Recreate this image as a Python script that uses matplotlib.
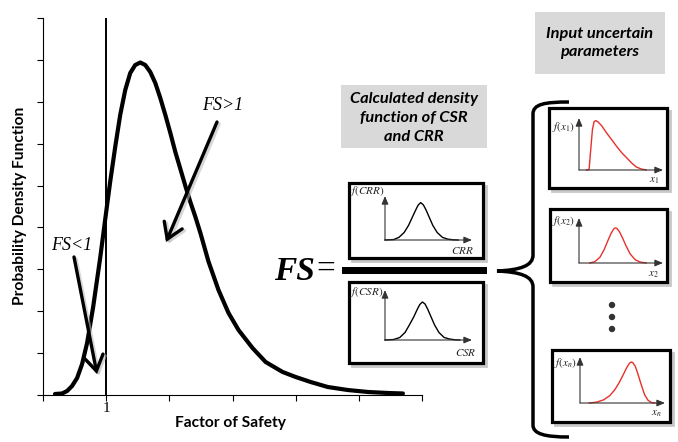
import matplotlib
matplotlib.use("Agg")
import matplotlib.pyplot as plt
from matplotlib.patches import Rectangle, PathPatch, Circle, FancyArrowPatch
from matplotlib.path import Path

plt.rcParams['mathtext.fontset'] = 'stix'

# ---------------- data ----------------
fs_x = [0.190, 0.302, 0.381, 0.460, 0.540, 0.619, 0.698, 0.794, 0.905, 1.000, 1.063,
        1.143, 1.222, 1.302, 1.381, 1.460, 1.540, 1.619, 1.698, 1.778, 1.857, 1.937,
        2.016, 2.095, 2.175, 2.254, 2.333, 2.413, 2.492, 2.619, 2.778, 2.937, 3.095,
        3.317, 3.524, 3.794, 4.000, 4.238, 4.508, 4.825, 5.143, 5.460, 5.698]
pdf_y = [0.024, 0.036, 0.095, 0.215, 0.406, 0.740, 1.241, 2.101, 3.270, 4.368, 5.084,
         5.920, 6.684, 7.281, 7.687, 7.878, 7.938, 7.878, 7.711, 7.448, 7.090, 6.684,
         6.255, 5.801, 5.395, 4.989, 4.607, 4.250, 3.867, 3.190, 2.507, 1.958, 1.552,
         1.122, 0.788, 0.549, 0.430, 0.310, 0.191, 0.119, 0.072, 0.048, 0.036]
x_ticks = [0, 1, 2, 3, 4, 5, 6]
x_tick_labels = ['', '1', '', '', '', '', '']
y_ticks = [0, 1, 2, 3, 4, 5, 6, 7, 8, 9]
fs_threshold = 1

crr_x = [0.00, 0.10, 0.16, 0.22, 0.27, 0.31, 0.35, 0.38, 0.41, 0.44, 0.47, 0.51, 0.55, 0.60, 0.66, 0.72, 0.78, 0.84]
crr_y = [0.00, 0.01, 0.06, 0.17, 0.33, 0.50, 0.67, 0.79, 0.85, 0.80, 0.69, 0.51, 0.33, 0.17, 0.06, 0.02, 0.005, 0.00]
csr_x = [0.00, 0.10, 0.17, 0.23, 0.28, 0.33, 0.37, 0.40, 0.43, 0.46, 0.49, 0.53, 0.57, 0.62, 0.68, 0.74, 0.80, 0.86]
csr_y = [0.00, 0.01, 0.05, 0.15, 0.30, 0.46, 0.61, 0.71, 0.76, 0.72, 0.62, 0.46, 0.30, 0.15, 0.05, 0.02, 0.005, 0.00]
x1_x = [0.09, 0.12, 0.14, 0.16, 0.18, 0.20, 0.23, 0.27, 0.33, 0.39, 0.45, 0.51, 0.57, 0.63, 0.68, 0.74, 0.80]
x1_y = [0.00, 0.01, 0.40, 0.78, 0.93, 0.95, 0.92, 0.85, 0.71, 0.58, 0.45, 0.33, 0.23, 0.13, 0.06, 0.02, 0.00]
x2_x = [0.13, 0.19, 0.25, 0.30, 0.34, 0.38, 0.41, 0.43, 0.45, 0.48, 0.52, 0.56, 0.61, 0.67, 0.73, 0.80]
x2_y = [0.00, 0.03, 0.13, 0.30, 0.48, 0.65, 0.75, 0.78, 0.77, 0.70, 0.55, 0.38, 0.20, 0.07, 0.02, 0.00]
xn_x = [0.11, 0.20, 0.28, 0.35, 0.41, 0.46, 0.51, 0.55, 0.58, 0.60, 0.62, 0.65, 0.68, 0.72, 0.76, 0.80, 0.84, 0.88]
xn_y = [0.00, 0.02, 0.07, 0.16, 0.29, 0.44, 0.62, 0.77, 0.86, 0.89, 0.88, 0.80, 0.64, 0.40, 0.18, 0.06, 0.01, 0.00]

# ---------------- figure ----------------
W, H = 678, 442
fig = plt.figure(figsize=(W / 100, H / 100), dpi=100)
fig.patch.set_facecolor('white')

def fig_rect(x0, y0, x1, y1):
    return [x0 / W, 1 - y1 / H, (x1 - x0) / W, (y1 - y0) / H]

SANS = 'Lato'

# main PDF axes
ax = fig.add_axes(fig_rect(43, 18, 422, 395))
ax.set_zorder(1)
ax.plot(fs_x, pdf_y, color='black', lw=3.0, solid_capstyle='round', solid_joinstyle='round')
ax.axvline(fs_threshold, color='black', lw=1.4)
ax.set_xlim(0, 6)
ax.set_ylim(0, 9)
ax.set_xticks(x_ticks)
ax.set_xticklabels(x_tick_labels, fontfamily='Liberation Serif', fontsize=11)
ax.set_yticks(y_ticks)
ax.set_yticklabels([])
for s in ['top', 'right']:
    ax.spines[s].set_visible(False)
for s in ['left', 'bottom']:
    ax.spines[s].set_linewidth(0.8)
ax.tick_params(axis='both', direction='out', length=4, width=0.8, color='black')
ax.tick_params(axis='x', pad=1.0)

# overlay in pixel coordinates
ov = fig.add_axes([0, 0, 1, 1])
ov.set_zorder(2)
ov.patch.set_visible(False)
ov.set_xlim(0, W)
ov.set_ylim(H, 0)
ov.axis('off')

ov.text(230, 423, 'Factor of Safety', ha='center', va='center', fontfamily=SANS,
        fontweight='bold', fontsize=11.2)
ov.text(20, 206, 'Probability Density Function', ha='center', va='center', rotation=90,
        fontfamily=SANS, fontweight='bold', fontsize=11.2)

ov.text(72, 246, 'FS<1', ha='center', va='center', fontfamily='Liberation Serif',
        style='italic', fontsize=13)
ov.text(223, 105, 'FS>1', ha='center', va='center', fontfamily='Liberation Serif',
        style='italic', fontsize=13)

def arrow(p0, p1):
    sh = FancyArrowPatch((p0[0] + 2, p0[1] + 2), (p1[0] + 2, p1[1] + 2),
                         arrowstyle='->,head_length=0.55,head_width=0.35',
                         mutation_scale=20, lw=2.6, color='#bbbbbb', alpha=0.6,
                         shrinkA=0, shrinkB=0)
    ov.add_patch(sh)
    a = FancyArrowPatch(p0, p1, arrowstyle='->,head_length=0.55,head_width=0.35',
                        mutation_scale=20, lw=2.4, color='black', shrinkA=0, shrinkB=0,
                        capstyle='round', joinstyle='miter')
    ov.add_patch(a)

arrow((74, 257), (97, 374))
arrow((217, 122), (166, 242))

# FS = fraction
ov.text(315, 271, 'FS', ha='right', va='center', fontfamily='Liberation Serif',
        style='italic', fontweight='bold', fontsize=24)
ov.text(316, 269, '=', ha='left', va='center', fontfamily='Liberation Serif',
        fontsize=24)
ov.add_patch(Rectangle((342, 267), 145, 7, facecolor='black', edgecolor='none'))

# gray label boxes
ov.add_patch(Rectangle((341, 85), 146, 63, facecolor='#d9d9d9', edgecolor='none'))
ov.text(414, 118, 'Calculated density\nfunction of CSR\nand CRR', ha='center', va='center',
        fontfamily=SANS, style='italic', fontweight='bold', fontsize=11.8, linespacing=1.42)
ov.add_patch(Rectangle((535, 12), 130, 62, facecolor='#d9d9d9', edgecolor='none'))
ov.text(600, 43, 'Input uncertain\nparameters', ha='center', va='center',
        fontfamily=SANS, style='italic', fontweight='bold', fontsize=11.8, linespacing=1.42)

# framed mini boxes
def frame(x0, y0, x1, y1):
    ov.add_patch(Rectangle((x0 + 2.5, y0 + 2.5), x1 - x0, y1 - y0, facecolor='#c8c8c8',
                           edgecolor='#c8c8c8', lw=2.0))
    ov.add_patch(Rectangle((x0, y0), x1 - x0, y1 - y0, facecolor='white',
                           edgecolor='black', lw=2.3))

frame(349, 183, 483, 258)
frame(349, 282, 483, 363)
frame(549, 108, 667, 188)
frame(550, 209, 667, 282)
frame(552, 350, 670, 422)

# brace
verts = [(569, 102), (545, 102), (533, 104), (533, 114),
         (533, 255),
         (533, 266), (520, 270), (497, 271),
         (520, 272), (533, 276), (533, 287),
         (533, 425),
         (533, 434), (545, 437), (569, 437)]
codes = [Path.MOVETO, Path.CURVE4, Path.CURVE4, Path.CURVE4,
         Path.LINETO,
         Path.CURVE4, Path.CURVE4, Path.CURVE4,
         Path.CURVE4, Path.CURVE4, Path.CURVE4,
         Path.LINETO,
         Path.CURVE4, Path.CURVE4, Path.CURVE4]
ov.add_patch(PathPatch(Path(verts, codes), facecolor='none', edgecolor='black', lw=2.5,
                       capstyle='butt'))

# dots
for yy in (305, 317, 329):
    ov.add_patch(Circle((612, yy), 3.2, facecolor='#333333', edgecolor='none'))

# mini plots
def mini(ox, oy, tx, ty, xs, ys, color, lw):
    m = fig.add_axes(fig_rect(ox, ty, tx, oy))
    m.set_zorder(3)
    m.patch.set_visible(False)
    m.set_xlim(0, 1)
    m.set_ylim(0, 1)
    m.axis('off')
    for end in [(1, 0), (0, 1)]:
        m.annotate('', xy=end, xytext=(0, 0), xycoords='axes fraction',
                   arrowprops=dict(arrowstyle='-|>,head_length=0.6,head_width=0.25',
                                   color='#333333', lw=0.8, mutation_scale=8,
                                   shrinkA=0, shrinkB=0), annotation_clip=False)
    m.plot(xs, ys, color=color, lw=lw, clip_on=False)
    return m

mini(385, 240, 472, 196, crr_x, crr_y, 'black', 1.0)
mini(385, 340, 472, 290, csr_x, csr_y, 'black', 1.0)
RED = '#e8302a'
mini(579, 170, 663, 118, x1_x, x1_y, RED, 1.0)
mini(579, 263, 663, 218, x2_x, x2_y, RED, 1.0)
mini(580, 403, 665, 357, xn_x, xn_y, RED, 1.0)

lab = dict(fontsize=8, color='#222222', va='center')
ov.text(350, 191, r'$f(CRR)$', ha='left', **lab)
ov.text(474, 250, r'$CRR$', ha='right', **lab)
ov.text(350, 292, r'$f(CSR)$', ha='left', **lab)
ov.text(477, 352, r'$CSR$', ha='right', **lab)
ov.text(552, 127, r'$f(x_1)$', ha='left', **lab)
ov.text(659, 181, r'$x_1$', ha='right', **lab)
ov.text(552, 221, r'$f(x_2)$', ha='left', **lab)
ov.text(659, 275, r'$x_2$', ha='right', **lab)
ov.text(554, 363, r'$f(x_n)$', ha='left', **lab)
ov.text(662, 414, r'$x_n$', ha='right', **lab)

fig.savefig('out.png', dpi=100)
